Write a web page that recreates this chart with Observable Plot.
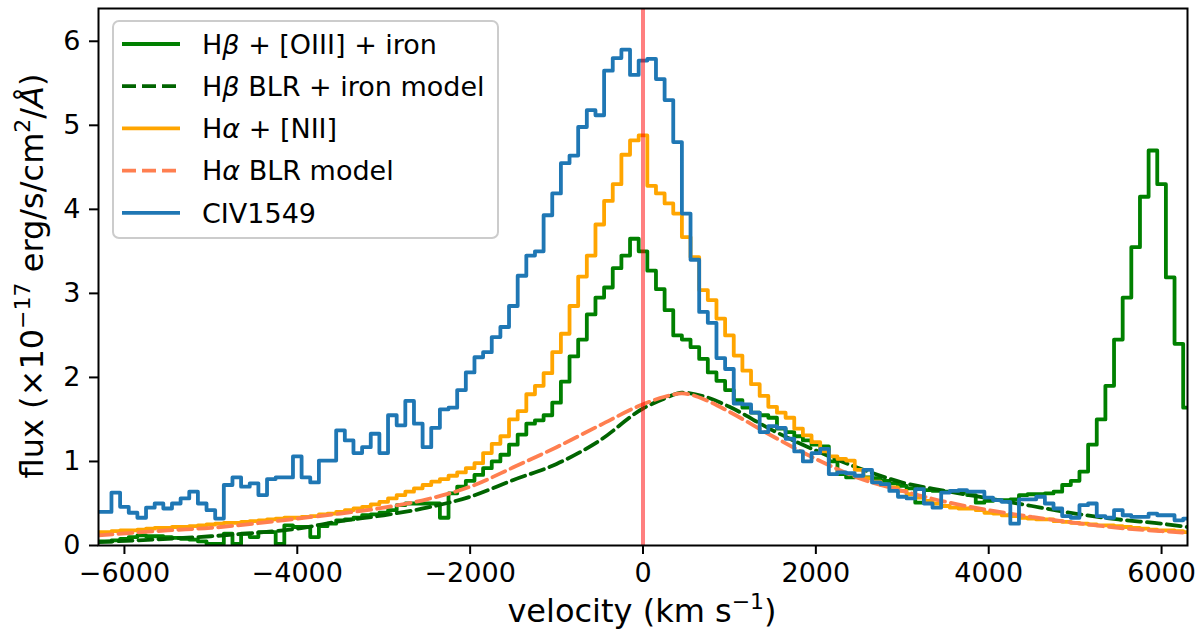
<!DOCTYPE html>
<html lang="en">
<head>
    <meta charset="UTF-8">
    <title>Broad line profiles in velocity space</title>
    <style>
        body {
            margin: 0;
            background: #fff;
            font-family: "DejaVu Sans", sans-serif;
        }
        #chart {
            width: 1200px;
            height: 640px;
        }
    </style>
    <script src="https://cdn.jsdelivr.net/npm/d3@7"></script>
    <script src="https://cdn.jsdelivr.net/npm/@observablehq/plot@0.6"></script>
</head>
<body>
    <div id="chart"></div>

    <script>
        // Velocity bins (km/s), 100 km/s wide, shared by the three observed spectra
        const velocity = d3.range(-6300, 6301, 100);

        // CIV1549 (flux, 1e-17 erg/s/cm2/A)
        const civ = [
            0.40, 0.40, 0.63, 0.46, 0.39, 0.33, 0.45, 0.50, 0.44, 0.50,
            0.56, 0.64, 0.50, 0.42, 0.32, 0.72, 0.81, 0.70, 0.74, 0.60,
            0.79, 0.81, 0.81, 1.06, 0.81, 0.75, 1.01, 1.01, 1.37, 1.25,
            1.10, 1.17, 1.33, 1.10, 1.55, 1.43, 1.72, 1.45, 1.17, 1.40,
            1.62, 1.64, 1.85, 2.06, 2.24, 2.30, 2.48, 2.60, 2.85, 3.21,
            3.45, 3.50, 3.93, 4.19, 4.55, 4.64, 4.98, 5.18, 5.12, 5.65,
            5.80, 5.90, 5.60, 5.77, 5.79, 5.55, 5.30, 4.80, 3.95, 3.40,
            2.78, 2.65, 2.23, 2.10, 1.69, 1.68, 1.58, 1.35, 1.42, 1.40,
            1.27, 1.12, 1.00, 1.10, 1.15, 0.85, 0.87, 0.86, 0.83, 0.90,
            0.75, 0.73, 0.65, 0.58, 0.56, 0.67, 0.50, 0.45, 0.63, 0.65,
            0.66, 0.64, 0.64, 0.57, 0.54, 0.52, 0.26, 0.55, 0.55, 0.58,
            0.50, 0.44, 0.35, 0.33, 0.48, 0.50, 0.35, 0.33, 0.42, 0.36,
            0.34, 0.34, 0.38, 0.36, 0.36, 0.30, 0.32
        ];

        // H-alpha + [NII]
        const halpha = [
            0.16, 0.16, 0.17, 0.18, 0.18, 0.19, 0.20, 0.21, 0.21, 0.22,
            0.22, 0.23, 0.24, 0.25, 0.26, 0.27, 0.27, 0.28, 0.29, 0.30,
            0.31, 0.32, 0.33, 0.33, 0.34, 0.35, 0.37, 0.38, 0.40, 0.42,
            0.44, 0.46, 0.49, 0.52, 0.56, 0.60, 0.64, 0.68, 0.72, 0.76,
            0.79, 0.83, 0.87, 0.92, 0.98, 1.10, 1.21, 1.30, 1.50, 1.60,
            1.80, 1.90, 2.05, 2.30, 2.52, 2.85, 3.20, 3.45, 3.82, 4.10,
            4.30, 4.65, 4.82, 4.88, 4.28, 4.19, 4.07, 3.95, 3.67, 3.43,
            3.04, 2.92, 2.70, 2.50, 2.26, 2.08, 1.92, 1.78, 1.65, 1.58,
            1.52, 1.39, 1.31, 1.23, 1.12, 1.06, 1.03, 1.01, 0.90, 0.80,
            0.76, 0.72, 0.69, 0.65, 0.61, 0.57, 0.53, 0.50, 0.47, 0.45,
            0.44, 0.44, 0.42, 0.39, 0.38, 0.36, 0.35, 0.33, 0.32, 0.31,
            0.31, 0.29, 0.28, 0.27, 0.26, 0.25, 0.24, 0.24, 0.23, 0.22,
            0.21, 0.20, 0.19, 0.18, 0.18, 0.17, 0.16
        ];

        // H-beta + [OIII] + iron
        const hbeta = [
            0.05, 0.05, 0.06, 0.08, 0.10, 0.12, 0.11, 0.11, 0.10, 0.09,
            0.08, 0.07, 0.05, 0.02, 0.02, 0.14, 0.02, 0.14, 0.10, 0.16,
            0.16, 0.02, 0.24, 0.22, 0.22, 0.10, 0.23, 0.26, 0.30, 0.31,
            0.33, 0.36, 0.37, 0.39, 0.42, 0.48, 0.50, 0.50, 0.50, 0.50,
            0.33, 0.62, 0.70, 0.77, 0.84, 0.92, 1.00, 1.08, 1.20, 1.32,
            1.45, 1.49, 1.55, 1.70, 1.95, 2.25, 2.45, 2.75, 2.95, 3.07,
            3.30, 3.45, 3.65, 3.50, 3.27, 3.05, 2.80, 2.50, 2.45, 2.36,
            2.22, 2.06, 1.96, 1.85, 1.73, 1.64, 1.58, 1.55, 1.52, 1.39,
            1.35, 1.30, 1.25, 1.20, 1.18, 1.00, 0.85, 0.81, 0.82, 0.81,
            0.80, 0.77, 0.74, 0.71, 0.68, 0.51, 0.66, 0.65, 0.64, 0.64,
            0.64, 0.60, 0.51, 0.53, 0.54, 0.54, 0.55, 0.60, 0.61, 0.61,
            0.62, 0.64, 0.72, 0.77, 0.88, 1.20, 1.50, 1.90, 2.45, 2.95,
            3.55, 4.15, 4.70, 4.30, 3.19, 2.40, 1.64
        ];

        // BLR model curves, sampled at these velocities
        const modelVelocity = [-6300, -5500, -5000, -4500, -4000, -3500, -3000, -2500, -2000, -1500,
            -1000, -500, 0, 250, 450, 750, 1000, 1500, 2000, 2500, 3000, 3500, 4000, 4500, 5000, 5500, 6000, 6300];
        const hbetaModel = [0.04, 0.08, 0.11, 0.15, 0.20, 0.29, 0.36, 0.45, 0.58, 0.78,
            0.97, 1.25, 1.63, 1.75, 1.82, 1.76, 1.65, 1.37, 1.13, 0.92, 0.75, 0.65, 0.56, 0.47, 0.38, 0.31, 0.26, 0.22];
        const halphaModel = [0.12, 0.18, 0.21, 0.26, 0.32, 0.38, 0.45, 0.55, 0.70, 0.93,
            1.17, 1.43, 1.68, 1.77, 1.81, 1.72, 1.59, 1.30, 1.03, 0.80, 0.65, 0.52, 0.42, 0.34, 0.27, 0.21, 0.17, 0.15];

        const xTicks = [-6000, -4000, -2000, 0, 2000, 4000, 6000];
        const yTicks = [0, 1, 2, 3, 4, 5, 6];

        const toRows = (vs, ys) => ys.map((f, i) => ({v: vs[i], flux: f}));

        const legendItems = [
            {label: ["H", "β", " + [OIII] + iron"], stroke: "green", dash: null},
            {label: ["H", "β", " BLR + iron model"], stroke: "darkgreen", dash: "14,6"},
            {label: ["H", "α", " + [NII]"], stroke: "orange", dash: null},
            {label: ["H", "α", " BLR model"], stroke: "coral", dash: "14,6"},
            {label: ["CIV1549", "", ""], stroke: "#1f77b4", dash: null}
        ];

        const lw = 3.8;
        const plot = Plot.plot({
            width: 1200,
            height: 640,
            marginTop: 8,
            marginRight: 13,
            marginBottom: 95,
            marginLeft: 98,
            style: {fontFamily: "DejaVu Sans", fontSize: "27px", color: "black", background: "white"},
            x: {domain: [-6300, 6300]},
            y: {domain: [0, 6.39]},
            marks: [
                Plot.axisX({ticks: xTicks, tickFormat: d3.format("d"), tickSize: 9, tickPadding: 8, strokeWidth: 2, label: null}),
                Plot.axisY({ticks: yTicks, tickFormat: d3.format("d"), tickSize: 9, tickPadding: 9, strokeWidth: 2, label: null}),
                Plot.lineY(toRows(velocity, hbeta), {x: "v", y: "flux", curve: "step", stroke: "green", strokeWidth: lw, clip: true}),
                Plot.lineY(toRows(modelVelocity, hbetaModel), {x: "v", y: "flux", curve: "monotone-x", stroke: "darkgreen", strokeWidth: lw, strokeDasharray: "14,6", clip: true}),
                Plot.lineY(toRows(velocity, halpha), {x: "v", y: "flux", curve: "step", stroke: "orange", strokeWidth: lw, clip: true}),
                Plot.lineY(toRows(modelVelocity, halphaModel), {x: "v", y: "flux", curve: "monotone-x", stroke: "coral", strokeWidth: lw, strokeDasharray: "14,6", clip: true}),
                Plot.lineY(toRows(velocity, civ), {x: "v", y: "flux", curve: "step", stroke: "#1f77b4", strokeWidth: lw, clip: true}),
                Plot.ruleX([0], {stroke: "red", strokeOpacity: 0.5, strokeWidth: 4}),
                Plot.frame({stroke: "black", strokeWidth: 2})
            ]
        });

        const svg = d3.select(plot);

        // axis labels
        const xl = svg.append("text")
            .attr("x", 642)
            .attr("y", 622)
            .attr("text-anchor", "middle")
            .style("font-size", "32px");
        xl.append("tspan").text("velocity (km s");
        xl.append("tspan").attr("dy", -13).style("font-size", "22px").text("−1");
        xl.append("tspan").attr("dy", 13).text(")");

        const yl = svg.append("text")
            .attr("transform", "translate(43,276) rotate(-90)")
            .attr("text-anchor", "middle")
            .style("font-size", "32px");
        yl.append("tspan").text("flux (×10");
        yl.append("tspan").attr("dy", -13).style("font-size", "22px").text("−17");
        yl.append("tspan").attr("dy", 13).text(" erg/s/cm");
        yl.append("tspan").attr("dy", -13).style("font-size", "22px").text("2");
        yl.append("tspan").attr("dy", 13).text("/");
        yl.append("tspan").style("font-style", "italic").text("Å");
        yl.append("tspan").text(")");

        // legend box, upper left
        const lg = svg.append("g");
        lg.append("rect")
            .attr("x", 113).attr("y", 21)
            .attr("width", 385).attr("height", 217)
            .attr("rx", 6)
            .attr("fill", "white").attr("fill-opacity", 0.8)
            .attr("stroke", "#cccccc").attr("stroke-width", 2);
        legendItems.forEach((d, i) => {
            const y = 44 + i * 42.2;
            lg.append("line")
                .attr("x1", 122).attr("x2", 180)
                .attr("y1", y).attr("y2", y)
                .attr("stroke", d.stroke).attr("stroke-width", lw)
                .attr("stroke-dasharray", d.dash);
            const t = lg.append("text")
                .attr("x", 202).attr("y", y)
                .attr("dy", "0.36em")
                .attr("text-anchor", "start")
                .style("font-size", "27px");
            t.append("tspan").text(d.label[0]);
            t.append("tspan").style("font-style", "italic").text(d.label[1]);
            t.append("tspan").text(d.label[2]);
        });

        document.getElementById("chart").appendChild(plot);
    </script>
</body>
</html>
